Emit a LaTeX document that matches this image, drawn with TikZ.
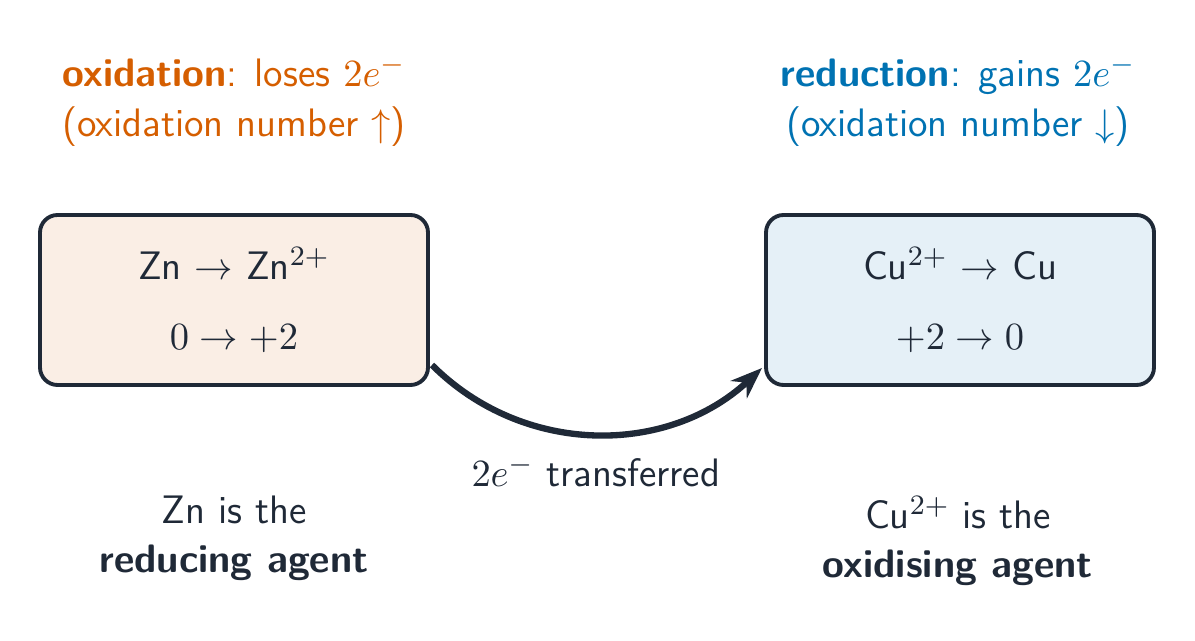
\documentclass[tikz,border=0pt]{standalone}
\usepackage{amsmath}
\usetikzlibrary{arrows.meta}
\definecolor{oxcol}{HTML}{D55E00}
\definecolor{redcol}{HTML}{0072B2}
\definecolor{ink}{HTML}{1F2937}
\definecolor{oxfill}{HTML}{FAEEE5}
\definecolor{redfill}{HTML}{E5F0F7}
\tikzset{
  half/.style={draw=ink, line width=1.1pt, rounded corners=5pt, minimum width=3.88cm,
    minimum height=1.7cm, align=center, text=ink, font=\sffamily\fontsize{11.3}{14}\selectfont},
  note/.style={align=center, font=\sffamily\fontsize{11.3}{14}\selectfont},
}
\begin{document}
\begin{tikzpicture}
  \useasboundingbox (0,0) rectangle (11.95,6.41);
  \node[half, fill=oxfill] (zn) at (2.34,3.41)
  {Zn $\rightarrow$ Zn$^{2+}$\\[6pt] $0\rightarrow+2$};
  \node[half, fill=redfill] (cu) at (9.60,3.41)
  {Cu$^{2+}$ $\rightarrow$ Cu\\[6pt] $+2\rightarrow0$};
  \node[note, text=oxcol] (oxlab) at (2.34,5.40)
  {\textbf{oxidation}: loses $2e^-$\\ (oxidation number $\uparrow$)};
  \node[note, text=redcol] (redlab) at (9.58,5.40)
  {\textbf{reduction}: gains $2e^-$\\ (oxidation number $\downarrow$)};
  \node[note, text=ink] (reducer) at (2.34,1.03)
  {Zn is the\\ \textbf{reducing agent}};
  \node[note, text=ink] (oxidiser) at (9.58,1.00)
  {Cu$^{2+}$ is the\\ \textbf{oxidising agent}};
  \coordinate (from) at (4.32,2.76);
  \coordinate (to) at (7.62,2.73);
  \draw[ink, line width=1.8pt, -{Stealth[length=9pt]}] (from) to[out=-45, in=-137]
    node[below=2pt, note, text=ink] (trans) {$2e^-$ transferred} (to);
\end{tikzpicture}
\end{document}
